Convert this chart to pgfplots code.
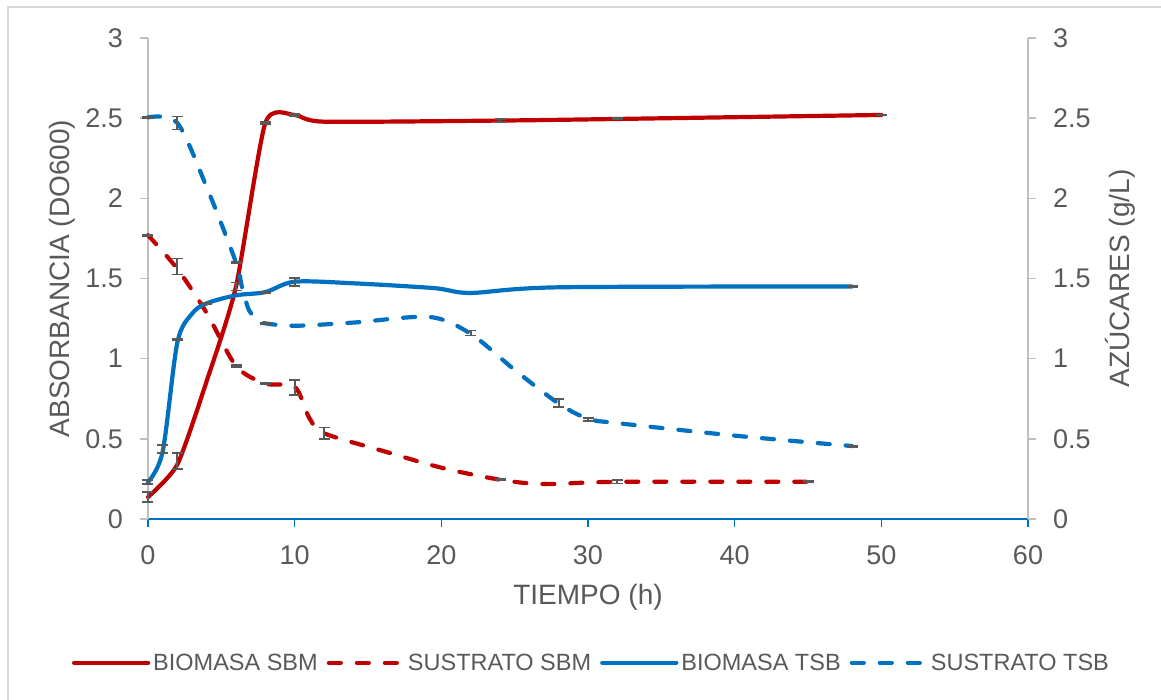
\documentclass[border=0pt]{standalone}
\usepackage{fontspec}
\setmainfont{Liberation Sans}
\usepackage{pgfplots}
\usepackage{pgfplotstable}
\pgfplotsset{compat=1.18}
\definecolor{xlred}{HTML}{C00000}
\definecolor{xlblue}{HTML}{0070C0}
\definecolor{xlgray}{HTML}{595959}
\definecolor{xlaxis}{HTML}{BFBFBF}
\definecolor{xlframe}{HTML}{D9D9D9}

% curves (t in h, value)
\pgfplotstableread{
t v
0 0.137
2 0.34
4 0.86
6 1.45
8 2.47
10 2.52
12 2.478
24 2.485
32 2.495
50 2.52
}\bioSBM
\pgfplotstableread{
t v
0 1.77
2 1.56
4 1.285
6 0.955
8 0.845
10 0.825
11 0.63
12 0.535
16 0.425
20 0.32
24 0.245
27 0.218
32 0.232
45 0.232
}\susSBM
\pgfplotstableread{
t v
0 0.23
1 0.42
2 1.10
3 1.28
4 1.345
6 1.395
8 1.415
10 1.48
14 1.47
19.5 1.44
22 1.41
28 1.445
48 1.45
}\bioTSB
\pgfplotstableread{
t v
0 2.505
2 2.47
4 2.07
6 1.60
6.4 1.45
6.9 1.30
7.6 1.235
8 1.22
10 1.205
14 1.225
19.2 1.26
22 1.155
25 0.93
28 0.72
30 0.625
32 0.598
40 0.52
48 0.455
}\susTSB

% error bars (t, value, +-)
\pgfplotstableread{
t v e
0 0.137 0.032
2 0.36 0.05
6 1.45 0.025
8 2.47 0.006
10 2.52 0.008
24 2.485 0.008
32 2.495 0.004
50 2.52 0.003
}\bioSBMerr
\pgfplotstableread{
t v e
0 1.77 0.005
2 1.575 0.05
6 0.955 0.005
8 0.845 0.004
10 0.82 0.045
12 0.535 0.035
24 0.245 0.003
32 0.232 0.01
45 0.232 0.004
}\susSBMerr
\pgfplotstableread{
t v e
0 0.23 0.012
1 0.435 0.025
2 1.12 0.004
4 1.345 0.004
8 1.415 0.004
10 1.48 0.025
48 1.45 0.003
}\bioTSBerr
\pgfplotstableread{
t v e
0 2.505 0.004
2 2.47 0.04
6 1.60 0.004
8 1.22 0.004
22 1.16 0.015
28 0.725 0.025
30 0.62 0.008
48 0.455 0.004
}\susTSBerr

\pgfplotsset{
  xlbase/.style={
    scale only axis, width=880pt, height=481pt,
    xmin=0, xmax=60, ymin=0, ymax=3,
    xtick={0,10,...,60}, ytick={0,0.5,...,3},
    tick align=outside, major tick length=8pt,
    tick label style={font=\fontsize{27}{32}\selectfont, color=xlgray},
    label style={font=\fontsize{28}{33}\selectfont, color=xlgray},
    /pgf/number format/assume math mode=true,
    clip=false,
  },
  solidl/.style={line width=4.2pt, line cap=round, line join=round, smooth},
  dashl/.style={line width=4.2pt, line cap=round, line join=round, smooth,
    dash pattern=on 12pt off 16pt},
  ebar/.style={draw=none, forget plot,
    error bars/.cd, y dir=both, y explicit,
    error bar style={draw=xlgray, line width=1.7pt, solid},
    error mark options={draw=xlgray, line width=1.7pt, mark size=5.5pt,
      solid, rotate=90}},
}

\begin{document}
\begin{tikzpicture}
% axis box lower-left sits at the origin; page is 1161 x 700
\useasboundingbox (-148pt,-181pt) rectangle (1013pt,519pt);
\draw[xlframe, line width=2pt] (-140pt,-181pt) -- (-140pt,512pt) -- (1013pt,512pt);

\begin{axis}[xlbase,
  axis x line*=bottom, axis y line*=left,
  x axis line style={-, xlblue, line width=1.3pt},
  y axis line style={-, xlaxis, line width=1.8pt},
  xtick style={xlblue, line width=1.3pt},
  ytick style={xlaxis, line width=1.6pt},
  yticklabel style={anchor=east, inner sep=0pt, xshift=-17pt},
  xticklabel style={anchor=north, inner sep=0pt, yshift=-18pt},
  xlabel={TIEMPO (h)},
  ylabel={ABSORBANCIA (DO600)},
  xlabel style={at={(axis description cs:0.5,-0.162)}, anchor=center},
  ylabel style={at={(axis description cs:-0.0977,0.5)}, anchor=center},
  legend columns=4,
  legend style={at={(axis description cs:0.5045,-0.299)}, anchor=center,
    draw=none, fill=none, font=\fontsize{23.5}{28}\selectfont, text=xlgray,
    nodes={inner sep=3pt},
    /tikz/every even column/.append style={column sep=6pt}},
  legend image code/.code={\draw[#1] (0pt,0pt) -- (74pt,0pt);},
]
\addplot[xlred, solidl, tension=0.38] table[x=t, y=v] {\bioSBM};
\addlegendentry{BIOMASA SBM}
\addplot[xlred, dashl] table[x=t, y=v] {\susSBM};
\addlegendentry{SUSTRATO SBM}
\addplot[xlblue, solidl] table[x=t, y=v] {\bioTSB};
\addlegendentry{BIOMASA TSB}
\addplot[xlblue, dashl] table[x=t, y=v] {\susTSB};
\addlegendentry{SUSTRATO TSB}

\addplot[ebar] table[x=t, y=v, y error=e] {\bioSBMerr};
\addplot[ebar] table[x=t, y=v, y error=e] {\susSBMerr};
\addplot[ebar] table[x=t, y=v, y error=e] {\bioTSBerr};
\addplot[ebar] table[x=t, y=v, y error=e] {\susTSBerr};
\end{axis}

\begin{axis}[xlbase,
  axis x line=none, axis y line*=right,
  y axis line style={-, xlaxis, line width=1.8pt},
  ytick style={xlaxis, line width=1.6pt},
  yticklabel style={anchor=west, inner sep=0pt, xshift=17pt},
  ylabel={AZÚCARES (g/L)},
  ylabel style={at={(axis description cs:1.1045,0.5)}, anchor=center},
]
\end{axis}
\end{tikzpicture}
\end{document}
